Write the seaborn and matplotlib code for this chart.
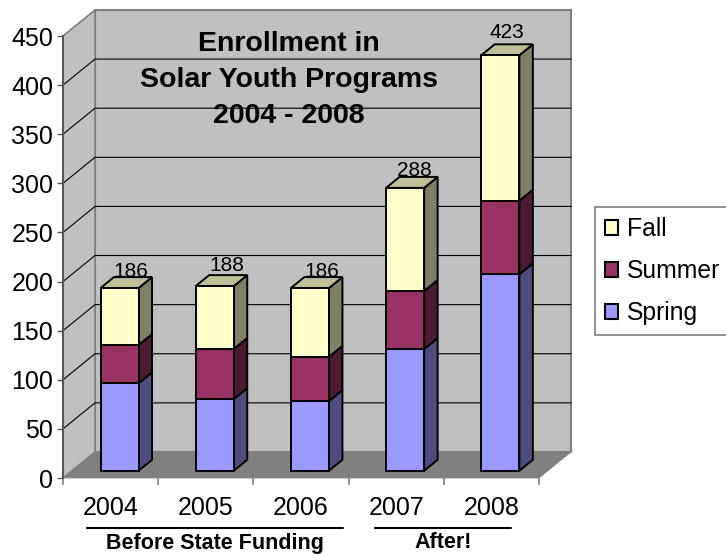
import matplotlib
matplotlib.use("Agg")
import matplotlib.pyplot as plt
import numpy as np
import pandas as pd
import seaborn as sns
from matplotlib.lines import Line2D
from matplotlib.patches import Patch

years = ["2004", "2005", "2006", "2007", "2008"]
spring = [89, 73, 71, 124, 200]
summer = [39, 51, 45, 59, 75]
fall = [58, 64, 70, 105, 148]
totals = [186, 188, 186, 288, 423]
y_ticks = [0, 50, 100, 150, 200, 250, 300, 350, 400, 450]

series_names = ["Spring", "Summer", "Fall"]
front_colors = ["#9999FF", "#993366", "#FFFFCC"]
side_colors = ["#4D4D80", "#4D1A33", "#808066"]
top_color = "#BFBF99"

W, H = 726, 554
DEPTH_X = 0.336   # one full depth of the box, in category units
DEPTH_Y = 26.5    # same, in value units
BAR_FRONT = 0.28
BAR_BACK = 0.70
label_nudge = [(11, 17), (12, 21), (12, 17), (9, 17), (7, 23)]

sns.set_style("white")
plt.rcParams["font.family"] = ["Liberation Sans", "DejaVu Sans"]
plt.rcParams["text.color"] = "black"
plt.rcParams["xtick.labelcolor"] = "black"
plt.rcParams["ytick.labelcolor"] = "black"


def project(x, y, d):
    return x + DEPTH_X * d, y + DEPTH_Y * d


def poly(ax, pts, **kw):
    xs, ys = zip(*pts)
    ax.fill(xs, ys, clip_on=False, **kw)


fig = plt.figure(figsize=(W / 100, H / 100), dpi=100)
ax = fig.add_axes([63 / W, (H - 478) / H, (539 - 63) / W, (478 - 36) / H])
ax.patch.set_alpha(0)

x_left, x_right = -0.5, 4.5
y_top = y_ticks[-1]

# box: walls and floor
poly(ax, [project(x_left, 0, 1), project(x_right, 0, 1), project(x_right, y_top, 1), project(x_left, y_top, 1)],
     facecolor="#C0C0C0", edgecolor="#808080", linewidth=1.5, zorder=1)
poly(ax, [project(x_left, 0, 0), project(x_left, 0, 1), project(x_left, y_top, 1), project(x_left, y_top, 0)],
     facecolor="#C0C0C0", edgecolor="#808080", linewidth=1.2, zorder=1)
for v in y_ticks[1:-1]:
    pts = [project(x_left, v, 0), project(x_left, v, 1), project(x_right, v, 1)]
    ax.plot(*zip(*pts), color="black", linewidth=0.8, clip_on=False, zorder=1.5)
poly(ax, [project(x_left, 0, 0), project(x_right, 0, 0), project(x_right, 0, 1), project(x_left, 0, 1)],
     facecolor="#808080", edgecolor="#808080", linewidth=0.5, zorder=2)

# front faces of the stacks
x_pos = np.arange(len(years)) + DEPTH_X * BAR_FRONT
lift = DEPTH_Y * BAR_FRONT
stack_base = np.zeros(len(years))
for name, vals, color in zip(series_names, [spring, summer, fall], front_colors):
    df = pd.DataFrame({"pos": x_pos, "value": vals})
    sns.barplot(data=df, x="pos", y="value", native_scale=True, ax=ax, color=color, saturation=1,
                width=0.40, bottom=stack_base + lift, errorbar=None, edgecolor="black", linewidth=1.4,
                zorder=4, clip_on=False)
    stack_base = stack_base + np.array(vals)

# sides and tops from the bars seaborn has drawn
bars = [p for p in ax.patches if hasattr(p, "get_width")]
dx = DEPTH_X * (BAR_BACK - BAR_FRONT)
dy = DEPTH_Y * (BAR_BACK - BAR_FRONT)
n = len(years)
for s, side in enumerate(side_colors):
    for i in range(n):
        b = bars[s * n + i]
        x0, x1 = b.get_x(), b.get_x() + b.get_width()
        y0, y1 = b.get_y(), b.get_y() + b.get_height()
        poly(ax, [(x1, y0), (x1 + dx, y0 + dy), (x1 + dx, y1 + dy), (x1, y1)],
             facecolor=side, edgecolor="black", linewidth=1.4, zorder=3)
        if s == len(side_colors) - 1:
            poly(ax, [(x0, y1), (x1, y1), (x1 + dx, y1 + dy), (x0 + dx, y1 + dy)],
                 facecolor=top_color, edgecolor="black", linewidth=1.4, zorder=3)

ax.set_xlim(x_left, x_right)
ax.set_ylim(0, y_top)
ax.set_xlabel("")
ax.set_ylabel("")
sns.despine(ax=ax, top=True, right=True, bottom=True)
ax.spines["left"].set_color("#555555")
ax.spines["left"].set_linewidth(1.5)
ax.spines["left"].set_zorder(5)

ax.set_yticks(y_ticks)
ax.tick_params(axis="y", labelsize=18, length=4, width=1, color="#555555", pad=3, left=True)
ax.set_xticks(np.arange(x_left, x_right + 0.1))
ax.set_xticklabels([])
ax.set_xticks(np.arange(len(years)), labels=years, minor=True)
ax.tick_params(axis="x", which="major", length=5, width=1.2, color="#808080", bottom=True)
ax.tick_params(axis="x", which="minor", length=0, labelsize=18, pad=13)

# totals above the stacks
for i, total in enumerate(totals):
    ax.annotate(str(total), (x_pos[i], total + lift), xytext=label_nudge[i], textcoords="offset pixels",
                ha="center", va="center", fontsize=15, zorder=6, annotation_clip=False)


def ftext(x, y, s, **kw):
    fig.text(x / W, 1 - y / H, s, ha="center", va="center", **kw)


for y, line in zip([44, 80, 116], ["Enrollment in", "Solar Youth Programs", "2004 - 2008"]):
    ftext(289, y, line, fontsize=20.5, fontweight="bold", zorder=7)

ftext(215, 543, "Before State Funding", fontsize=15.5, fontweight="bold")
ftext(443, 543, "After!", fontsize=15.5, fontweight="bold")
for x0, x1 in [(87, 343), (375, 511)]:
    fig.add_artist(Line2D([x0 / W, x1 / W], [1 - 528 / H] * 2, color="black", linewidth=1.5))

handles = [Patch(facecolor=c, edgecolor="black", linewidth=1.5, label=n_)
           for c, n_ in zip(front_colors[::-1], series_names[::-1])]
leg = fig.legend(handles=handles, loc="upper left", bbox_to_anchor=(595 / W, 1 - 207 / H), fontsize=17.8,
                 frameon=True, fancybox=False, edgecolor="#808080", framealpha=1, borderaxespad=0,
                 handlelength=0.55, handleheight=0.55, handletextpad=0.36, labelspacing=0.74,
                 borderpad=0.40)
leg.get_frame().set_linewidth(1.2)

fig.savefig("out.png", dpi=100)
